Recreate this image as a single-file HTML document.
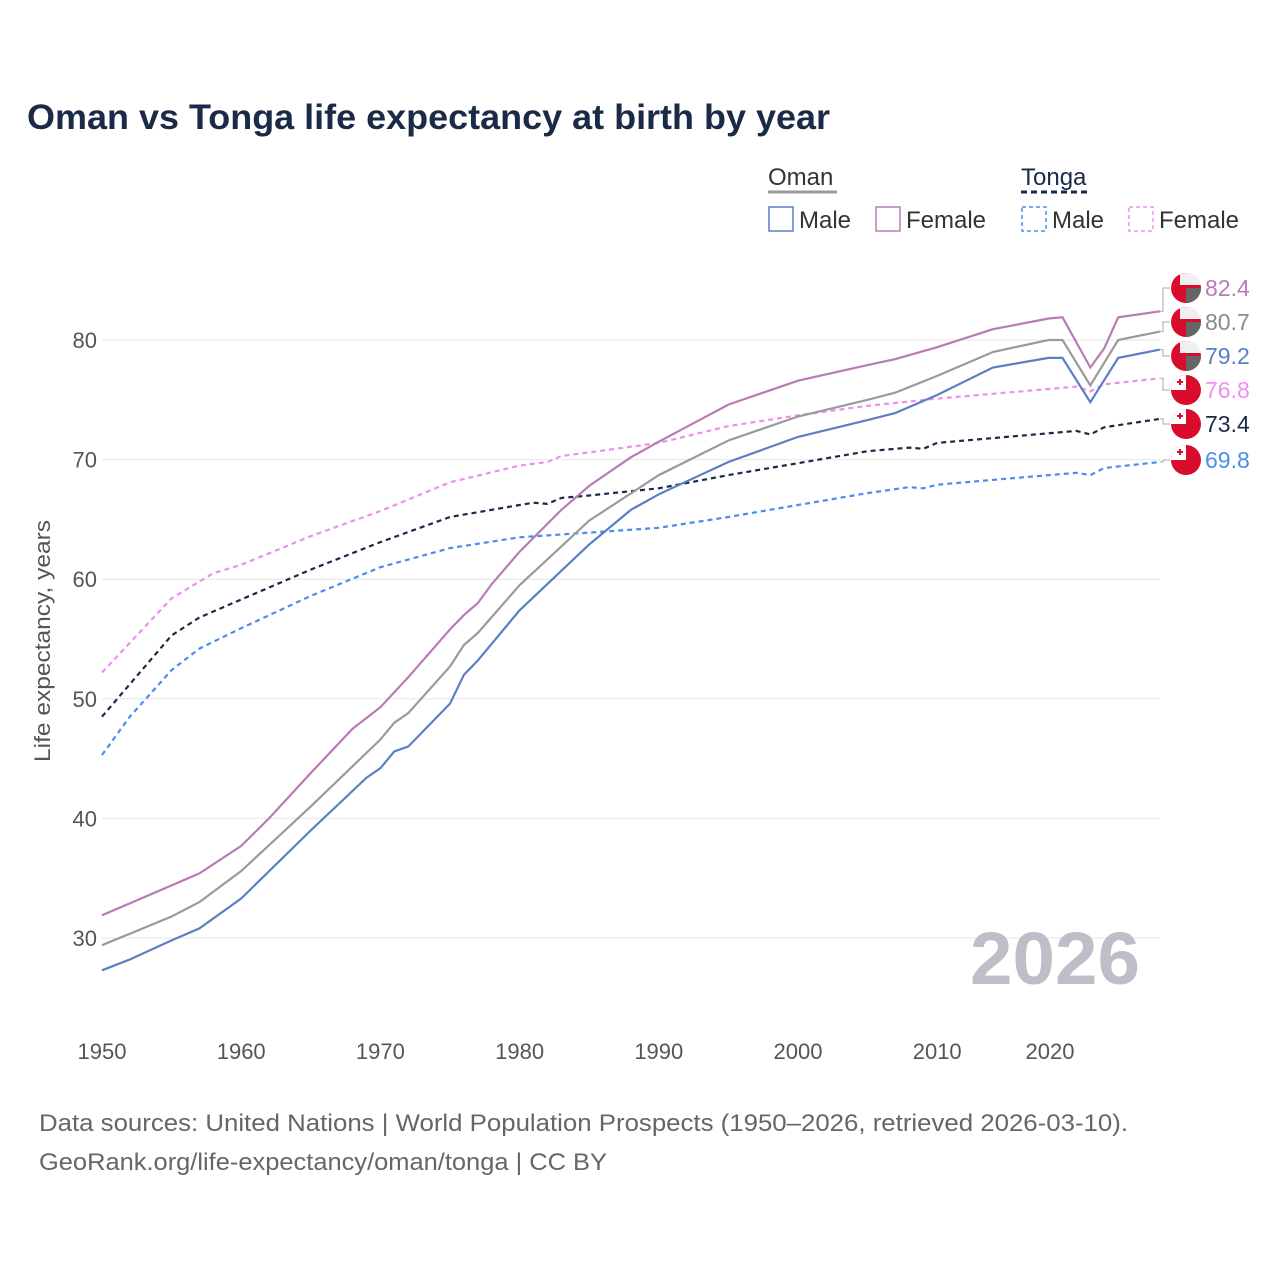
<!DOCTYPE html>
<html><head><meta charset="utf-8"><style>
body{margin:0;background:#fff;width:1280px;height:1280px;overflow:hidden;font-family:"Liberation Sans",sans-serif}
svg text{font-family:"Liberation Sans",sans-serif}
</style></head><body>
<svg id="chart" width="1280" height="1280" viewBox="0 0 1280 1280" xmlns="http://www.w3.org/2000/svg">
<text x="27" y="129" font-size="35" font-weight="bold" fill="#1b2a47" textLength="803" lengthAdjust="spacingAndGlyphs">Oman vs Tonga life expectancy at birth by year</text>
<g id="grid"></g>
<g id="xaxis"></g>
<g id="yaxis"></g>
<text transform="translate(50,641) rotate(-90)" text-anchor="middle" font-size="22" fill="#555" textLength="242" lengthAdjust="spacingAndGlyphs">Life expectancy, years</text>
<text x="1140" y="984" text-anchor="end" font-size="74" font-weight="bold" fill="#c0bcc8" textLength="170" lengthAdjust="spacingAndGlyphs">2026</text>
<g id="series"></g>
<g id="labels"></g>
<g font-size="24" fill="#1b2a47">
 <text x="768" y="185" fill="#333">Oman</text>
 <line x1="768" y1="192" x2="837" y2="192" stroke="#999" stroke-width="3"/>
 <text x="1021" y="185" fill="#1b2a47">Tonga</text>
 <line x1="1021" y1="192" x2="1089" y2="192" stroke="#1b2a47" stroke-width="3" stroke-dasharray="6,4"/>
 <g><rect x="769" y="207" width="24" height="24" fill="none" stroke="#5b7fc4" stroke-width="1.5"/><text x="799" y="228" fill="#333">Male</text></g>
 <g><rect x="876" y="207" width="24" height="24" fill="none" stroke="#b87bb5" stroke-width="1.5"/><text x="906" y="228" fill="#333">Female</text></g>
 <g><rect x="1022" y="207" width="24" height="24" fill="none" stroke="#4a8df0" stroke-width="1.5" stroke-dasharray="4,3"/><text x="1052" y="228" fill="#333">Male</text></g>
 <g><rect x="1129" y="207" width="24" height="24" fill="none" stroke="#f08ef0" stroke-width="1.5" stroke-dasharray="4,3"/><text x="1159" y="228" fill="#333">Female</text></g>
</g>
<text x="39" y="1131" font-size="24" fill="#666" textLength="1089" lengthAdjust="spacingAndGlyphs">Data sources: United Nations | World Population Prospects (1950–2026, retrieved 2026-03-10).</text>
<text x="39" y="1170" font-size="24" fill="#666" textLength="568" lengthAdjust="spacingAndGlyphs">GeoRank.org/life-expectancy/oman/tonga | CC BY</text>
</svg>
<script>
const xTicks=[1950,1960,1970,1980,1990,2000,2010,2020];
const yTicks=[30,40,50,60,70,80];
const omanMaleYears=[1950,1952,1955,1957,1960,1965,1969,1970,1971,1972,1975,1976,1977,1980,1985,1988,1990,1995,2000,2005,2007,2010,2014,2018,2019,2021,2023,2026];
const omanMale=[27.3,28.2,29.8,30.8,33.3,39,43.4,44.2,45.6,46,49.6,52,53.2,57.4,62.9,65.8,67.1,69.8,71.9,73.3,73.9,75.4,77.7,78.5,78.5,74.8,78.5,79.2];
const omanBothYears=[1950,1955,1957,1960,1965,1970,1971,1972,1975,1976,1977,1980,1985,1990,1995,2000,2005,2007,2010,2014,2018,2019,2021,2023,2026];
const omanBoth=[29.4,31.8,33,35.6,41,46.6,48,48.8,52.7,54.5,55.5,59.5,64.9,68.7,71.6,73.6,75,75.6,77,79,80,80,76.2,80,80.7];
const omanFemaleYears=[1950,1955,1957,1960,1962,1965,1968,1970,1972,1975,1976,1977,1978,1980,1983,1985,1988,1990,1995,2000,2005,2007,2010,2014,2018,2019,2021,2022,2023,2026];
const omanFemale=[31.9,34.4,35.4,37.7,40,43.8,47.5,49.3,51.8,55.8,57,58,59.6,62.3,65.8,67.8,70.2,71.5,74.6,76.6,77.9,78.4,79.4,80.9,81.8,81.9,77.7,79.3,81.9,82.4];
const tongaMaleYears=[1950,1952,1955,1957,1960,1965,1970,1975,1980,1985,1990,1995,2000,2005,2008,2009,2010,2015,2020,2021,2022,2026];
const tongaMale=[45.3,48.5,52.4,54.2,55.9,58.6,61,62.6,63.5,63.9,64.3,65.2,66.2,67.2,67.7,67.6,67.9,68.4,68.9,68.7,69.3,69.8];
const tongaBothYears=[1950,1955,1957,1960,1965,1970,1975,1980,1981,1982,1983,1985,1990,1995,2000,2005,2008,2009,2010,2015,2020,2021,2022,2026];
const tongaBoth=[48.5,55.3,56.8,58.3,60.8,63.1,65.2,66.2,66.4,66.3,66.8,67,67.6,68.7,69.7,70.7,71,70.9,71.4,71.9,72.4,72.1,72.7,73.4];
const tongaFemaleYears=[1950,1955,1958,1960,1965,1970,1975,1980,1982,1983,1985,1990,1995,2000,2005,2010,2015,2020,2021,2022,2026];
const tongaFemale=[52.2,58.4,60.5,61.2,63.6,65.7,68.1,69.5,69.8,70.3,70.6,71.4,72.8,73.7,74.5,75.1,75.6,76.1,75.7,76.3,76.8];
const endLabels=["82.4","80.7","79.2","76.8","73.4","69.8"];

const NS="http://www.w3.org/2000/svg";
const x=y=>102+(y-1950)*13.92;
const yv=v=>938-(v-30)*11.96;
function mk(t,a,p){const e=document.createElementNS(NS,t);for(const k in a)e.setAttribute(k,a[k]);p.appendChild(e);return e;}
const grid=document.getElementById('grid'),xa=document.getElementById('xaxis'),ya=document.getElementById('yaxis');
yTicks.forEach(t=>{
 const l=mk('line',{x1:102,x2:1160,y1:yv(t),y2:yv(t),stroke:'#e6e6e6','stroke-width':1},grid);
 
 
 const tx=mk('text',{x:97,y:yv(t)+8,'text-anchor':'end','font-size':22,fill:'#555'},ya);tx.textContent=t;
 
 
});
xTicks.forEach(t=>{
 const cx=t===2020?1050:x(t);
 const tx=mk('text',{x:cx,y:1059,'text-anchor':'middle','font-size':22,fill:'#555'},xa);tx.textContent=t;
 
 
});
const ser=document.getElementById('series');
const defs=[
 [tongaFemaleYears,tongaFemale,'#f08ef0','5,4','tonga-female-line'],
 [tongaMaleYears,tongaMale,'#4a8df0','5,4','tonga-male-line'],
 [tongaBothYears,tongaBoth,'#1b2a47','5,4','tonga-both-line'],
 [omanBothYears,omanBoth,'#9a9a9a','','oman-both-line'],
 [omanFemaleYears,omanFemale,'#b87bb5','','oman-female-line'],
 [omanMaleYears,omanMale,'#5b7fc4','','oman-male-line']];
defs.forEach(d=>{
 const pts=d[0].map((yr,i)=>x(yr).toFixed(1)+','+yv(d[1][i]).toFixed(1)).join(' ');
 const p=mk('polyline',{points:pts,fill:'none',stroke:d[2],'stroke-width':2.2,'stroke-dasharray':d[3]||'none'},ser);
 
 
});
const lab=document.getElementById('labels');
const ends=[[omanFemale,'#b87bb5',0,'oman'],[omanBoth,'#8a8a8a',1,'oman'],[omanMale,'#5b7fc4',2,'oman'],[tongaFemale,'#f08ef0',3,'tonga'],[tongaBoth,'#1b2a47',4,'tonga'],[tongaMale,'#4a8df0',5,'tonga']];
const ly=[288,322,356,390,424,460];
ends.forEach(e=>{
 const v=e[0][e[0].length-1],yy=ly[e[2]],y0=yv(v);
 mk('polyline',{points:`1160,${y0} 1163,${y0} 1163,${yy} 1170,${yy}`,fill:'none',stroke:'#aaa','stroke-width':1},lab);
 const g=mk('g',{},lab);
 
 
 mk('circle',{cx:1186,cy:yy,r:15,fill:'#d80d2e'},g);
 if(e[3]==='oman'){mk('path',{d:`M1186 ${yy} L1201 ${yy} A15 15 0 0 1 1186 ${yy+15}Z`,fill:'#666'},g);mk('path',{d:`M1180 ${yy-14} L1186 ${yy-15} A15 15 0 0 1 1201 ${yy-3} L1180 ${yy-3}Z`,fill:'#f0f0f0'},g);}
 else{mk('path',{d:`M1171 ${yy} A15 15 0 0 1 1186 ${yy-15} L1186 ${yy}Z`,fill:'#fff'},g);mk('rect',{x:1177,y:yy-9,width:6,height:2,fill:'#d80d2e'},g);mk('rect',{x:1179,y:yy-11,width:2,height:6,fill:'#d80d2e'},g);}
 const t=mk('text',{x:1205,y:yy+8,'font-size':23,fill:e[1]},lab);t.textContent=endLabels[e[2]];
 
 
});
</script>
</body></html>
